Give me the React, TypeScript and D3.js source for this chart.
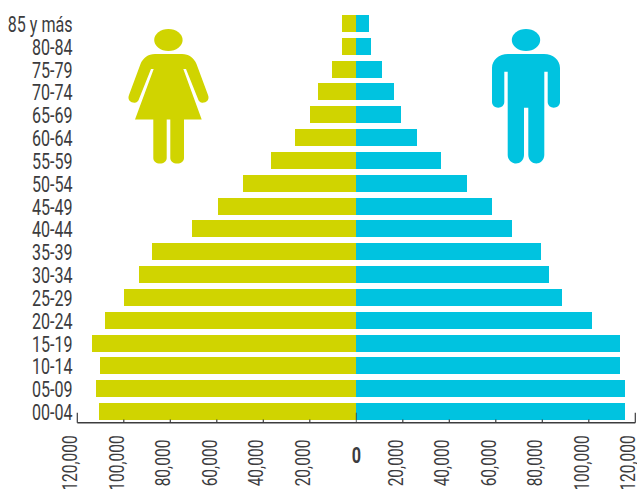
import React from "react";
import * as d3 from "d3";

const ageGroups = ["85 y más","80-84","75-79","70-74","65-69","60-64","55-59","50-54","45-49","40-44","35-39","30-34","25-29","20-24","15-19","10-14","05-09","00-04"];
const women = [6000,6000,10300,16300,19800,26200,36500,48600,59400,70500,87700,93300,99800,108000,113500,110100,111800,110500];
const men = [5600,6500,11200,16300,19400,26200,36500,47700,58500,67100,79600,83000,88600,101500,113500,113500,115700,115700];
const tickValues = [-120000,-100000,-80000,-60000,-40000,-20000,0,20000,40000,60000,80000,100000,120000];

const W = 637, H = 489;
const YELLOW = "#D0D400", CYAN = "#00C3E0", INK = "#3C3C3E";
const FONT = "Roboto, sans-serif";

const x = d3.scaleLinear().domain([-120000, 120000]).range([77.3, 635.3]);
const y = d3.scaleBand<string>().domain(ageGroups).range([12.09, 422.9]).paddingInner(0.255).paddingOuter(0.1275);
const fmt = d3.format(",");

const womanPath = "M155,54H182C189,54 194,58 196.5,64L208,95C210,100 206,103 202,102.7C199.5,102.5 198.5,100.5 198,99L186,69H183.3L201.7,119.5H184V158C184,161.5 181,163.5 177.2,163.5C173.4,163.5 170.3,161.5 170.3,158V119.5H166.7V158C166.7,161.5 163.6,163.5 160,163.5C156.3,163.5 153.3,161.5 153.3,158V119.5H135L153.7,69H151L139,99C138.5,100.5 137.5,102.5 135,102.7C131,103 127,100 129,95L140.5,64C143,58 148,54 155,54Z";
const manPath = "M508,54H544C553,54 560,60 560,68V102C560,105.5 557,107.7 553.8,107.7C550.6,107.7 547.7,105.5 547.7,102V71.7H544.3V155C544.3,160 540,163.5 536.3,163.5C532.5,163.5 528.3,160 528.3,155V107.7H524V155C524,160 520,163.5 516,163.5C512,163.5 507.7,160 507.7,155V71.7H504.3V102C504.3,105.5 501.4,107.7 498.2,107.7C495,107.7 492,105.5 492,102V68C492,60 499,54 508,54Z";

export default function App() {
  const zero = Math.round(x(0));
  const axisY = 422.7;
  return (
    <svg width={W} height={H} viewBox={`0 0 ${W} ${H}`} style={{ position: "fixed", left: 0, top: 0, background: "#fff", display: "block" }}>
      <g shapeRendering="crispEdges">
        {ageGroups.map((g, i) => {
          const top = Math.round(y(g)!);
          const h = Math.round(y.bandwidth());
          const l = Math.round(x(-women[i]));
          const r = Math.round(x(men[i]));
          return (
            <g key={g}>
              <rect x={l} y={top} width={zero - l} height={h} fill={YELLOW} />
              <rect x={zero} y={top} width={r - zero} height={h} fill={CYAN} />
            </g>
          );
        })}
      </g>
      <g fontFamily={FONT} fontSize={22} fill={INK} textAnchor="end">
        {ageGroups.map((g) => (
          <text key={g} transform={`translate(72.5,${Math.round(y(g)!) + 17}) scale(0.73,1)`}>{g}</text>
        ))}
      </g>
      <g stroke={INK} fill="none">
        <line x1={x(-120000)} x2={x(120000)} y1={axisY} y2={axisY} strokeWidth={1.4} />
        {tickValues.map((t) => {
          const end = Math.abs(t) === 120000;
          return (
            <line key={t} x1={x(t)} x2={x(t)} y1={axisY} y2={end || t === 0 ? 412.7 : 419.6} strokeWidth={t === 0 ? 0.8 : 1.2} />
          );
        })}
      </g>
      <g fontFamily={FONT} fontSize={21} fill={INK}>
        {tickValues.map((t) =>
          t === 0 ? (
            <text key={t} transform={`translate(${x(0)},463) scale(0.72,1)`} textAnchor="middle" fontWeight="bold" fontSize={22.5}>0</text>
          ) : (
            <text key={t} transform={`translate(${x(t)},463) rotate(-90) scale(0.74,1)`} textAnchor="middle">{fmt(Math.abs(t))}</text>
          )
        )}
      </g>
      <ellipse cx={168.4} cy={40} rx={14.2} ry={11} fill={YELLOW} />
      <path d={womanPath} fill={YELLOW} />
      <ellipse cx={526} cy={40} rx={14.2} ry={11} fill={CYAN} />
      <path d={manPath} fill={CYAN} />
    </svg>
  );
}
